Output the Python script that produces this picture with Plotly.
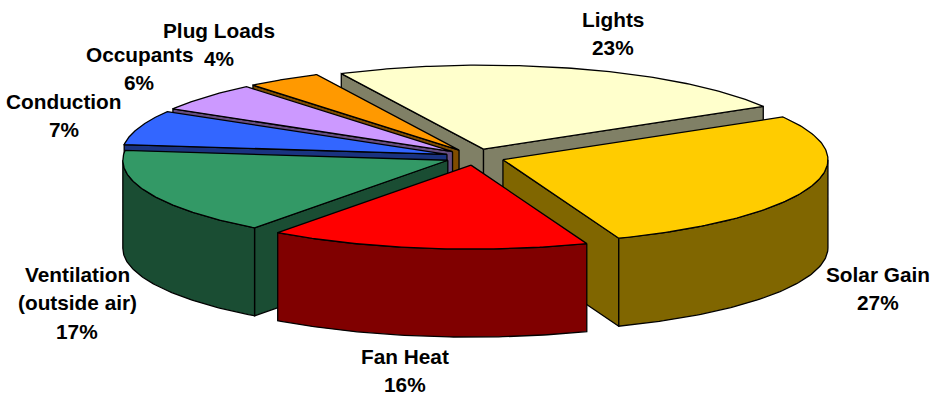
import numpy as np
import plotly.graph_objects as go

# Heat gain shares, in percent, clockwise from the back of the pie
categories = ["Lights", "Solar Gain", "Fan Heat", "Ventilation", "Conduction", "Occupants", "Plug Loads"]
shares = [23, 27, 16, 17, 7, 6, 4]

# Wrapped label lines and the anchor (centre x, first line y) for each label
label_lines = [["Lights"], ["Solar Gain"], ["Fan Heat"], ["Ventilation", "(outside air)"],
               ["Conduction"], ["Occupants"], ["Plug Loads"]]
label_anchor = [(613, 19.5), (878, 274.5), (405, 356), (77, 274.5), (64, 101.5), (139, 54.5), (219, 30)]

top_colors = ["#FFFFCC", "#FFCC00", "#FF0000", "#339966", "#3366FF", "#CC99FF", "#FF9900"]
wall_colors = ["#808066", "#806600", "#800000", "#1A4D33", "#1A3380", "#664D80", "#804D00"]

# Pie geometry in page pixels
CX, CY = 475, 157
RX, RY = 325, 84
DEPTH = 88
EXPLODE_X, EXPLODE_Y = 29.6, 8.2
START_DEG = -26
LINE_HEIGHT = 28.3
FONT_SIZE = 20.8


def foreshorten(t):
    """Perspective shift of the true pie angle (degrees) as it appears on the tilted disc."""
    r = np.radians(t)
    return (t + 3.2 - 2.5 * np.cos(r) - 1.0 * np.cos(2 * r)
            - 0.3 * np.cos(3 * r) + 0.25 * np.cos(r - np.radians(130)))


def rim(t, ox, oy, drop=0.0):
    r = np.radians(t)
    return ox + RX * np.sin(r), oy - RY * np.cos(r) + drop


def polygon(fig, xs, ys, color):
    fig.add_trace(go.Scatter(
        x=xs, y=ys, mode="lines", fill="toself", fillcolor=color,
        line=dict(color="black", width=1.3), hoverinfo="skip", showlegend=False,
    ))


edges = START_DEG + np.concatenate([[0], np.cumsum(shares)]) * 3.6
slices = []
for i in range(len(shares)):
    a0, a1 = foreshorten(edges[i]), foreshorten(edges[i + 1])
    mid = np.radians((a0 + a1) / 2)
    slices.append(dict(i=i, a0=a0, a1=a1,
                       ox=CX + EXPLODE_X * np.sin(mid),
                       oy=CY - EXPLODE_Y * np.cos(mid)))

# Painter's order: back slices first, the front wedge last
paint_order = [0, 6, 5, 4, 3, 1, 2]

fig = go.Figure()
for k in paint_order:
    s = slices[k]
    a0, a1, ox, oy = s["a0"], s["a1"], s["ox"], s["oy"]
    wall = wall_colors[k]

    # Radial cut faces, only when they turn towards the viewer
    for edge, visible in ((a0, np.sin(np.radians(a0)) < 0), (a1, np.sin(np.radians(a1)) > 0)):
        if visible:
            ex, ey = rim(edge, ox, oy)
            polygon(fig, [ox, ex, ex, ox, ox], [oy, ey, ey + DEPTH, oy + DEPTH, oy], wall)

    # Outer curved wall, limited to the front half of the disc
    lo, hi = max(a0, 90), min(a1, 270)
    if hi > lo:
        t = np.linspace(lo, hi, 80)
        x, y = rim(t, ox, oy)
        polygon(fig, np.r_[x, x[::-1], x[0]], np.r_[y, (y + DEPTH)[::-1], y[0]], wall)

    # Top face
    t = np.linspace(a0, a1, 120)
    x, y = rim(t, ox, oy)
    polygon(fig, np.r_[ox, x, ox], np.r_[oy, y, oy], top_colors[k])

# Two or three line labels: name lines followed by the share
for lines, (lx, ly), share in zip(label_lines, label_anchor, shares):
    for n, text in enumerate(lines + [f"{share}%"]):
        fig.add_annotation(
            x=lx, y=ly + n * LINE_HEIGHT, text=text, showarrow=False,
            xanchor="center", yanchor="middle",
            font=dict(family="Liberation Sans", size=FONT_SIZE, color="black", weight="bold"),
        )

fig.update_layout(
    width=932, height=395, margin=dict(l=0, r=0, t=0, b=0),
    paper_bgcolor="white", plot_bgcolor="white", showlegend=False,
    xaxis=dict(range=[0, 932], visible=False, fixedrange=True),
    yaxis=dict(range=[395, 0], visible=False, fixedrange=True),
)
fig.write_html("out.html", config={"displayModeBar": False})
